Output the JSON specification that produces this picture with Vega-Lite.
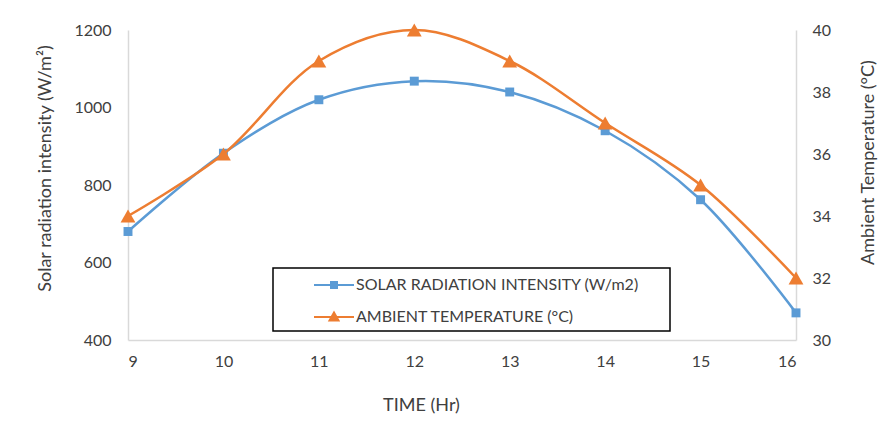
{
  "$schema": "https://vega.github.io/schema/vega-lite/v6.json",
  "width": 668,
  "height": 310,
  "autosize": {"type": "none"},
  "padding": {"left": 128, "top": 30, "right": 91, "bottom": 83},
  "background": "white",
  "config": {
    "view": {"stroke": null},
    "font": "Lato",
    "axis": {
      "grid": false,
      "ticks": false,
      "domainColor": "#d9d9d9",
      "domainWidth": 1.5,
      "labelFont": "Lato",
      "labelFontSize": 16,
      "labelColor": "#404040",
      "titleFont": "Lato",
      "titleFontSize": 18,
      "titleFontWeight": "normal",
      "titleColor": "#404040"
    }
  },
  "data": {
    "values": [
      {"time": 9, "solar": 680, "temp": 34},
      {"time": 10, "solar": 882, "temp": 36},
      {"time": 11, "solar": 1020, "temp": 39},
      {"time": 12, "solar": 1068, "temp": 40},
      {"time": 13, "solar": 1040, "temp": 39},
      {"time": 14, "solar": 940, "temp": 37},
      {"time": 15, "solar": 762, "temp": 35},
      {"time": 16, "solar": 470, "temp": 32}
    ]
  },
  "encoding": {
    "x": {
      "field": "time",
      "type": "quantitative",
      "scale": {"domain": [9, 16], "nice": false, "zero": false},
      "axis": {
        "values": [9, 10, 11, 12, 13, 14, 15, 16],
        "format": "d",
        "title": "TIME (Hr)",
        "labelPadding": 13,
        "titlePadding": 27,
        "titleX": 293
      }
    }
  },
  "layer": [
    {
      "encoding": {
        "y": {
          "field": "solar",
          "type": "quantitative",
          "scale": {"domain": [400, 1200], "nice": false, "zero": false},
          "axis": {
            "orient": "left",
            "values": [400, 600, 800, 1000, 1200],
            "format": "d",
            "title": "Solar radiation intensity (W/m²)",
            "labelPadding": 17,
            "titlePadding": 19,
            "titleY": 138
          }
        },
        "color": {
          "datum": "SOLAR RADIATION INTENSITY (W/m2)",
          "type": "nominal",
          "scale": {
            "domain": ["SOLAR RADIATION INTENSITY (W/m2)", "AMBIENT TEMPERATURE (°C)"],
            "range": ["#5b9bd5", "#ed7d31"]
          },
          "legend": {
            "title": null,
            "orient": "none",
            "legendX": 145,
            "legendY": 238,
            "padding": 6,
            "strokeColor": "black",
            "fillColor": "white",
            "symbolSize": 400,
            "symbolOffset": 44,
            "labelOffset": 11,
            "labelLimit": 600,
            "labelFont": "Lato",
            "labelFontSize": 16,
            "labelColor": "#404040",
            "rowPadding": 13,
            "labelExpr": "datum.label + '\u00a0\u00a0\u00a0\u00a0\u00a0\u00a0\u200b'",
            "encode": {
              "legend": {"update": {"strokeWidth": {"value": 1.5}}},
              "symbols": {
                "update": {
                  "shape": {"signal": "datum.value == 'SOLAR RADIATION INTENSITY (W/m2)' ? 'M-2,0H2M-0.3,-0.3H0.3V0.3H-0.3Z' : 'M-2,0H2M-0.45,0.35L0,-0.45L0.45,0.35Z'"},
                  "fill": {"signal": "datum.value == 'SOLAR RADIATION INTENSITY (W/m2)' ? '#5b9bd5' : '#ed7d31'"},
                  "stroke": {"signal": "datum.value == 'SOLAR RADIATION INTENSITY (W/m2)' ? '#5b9bd5' : '#ed7d31'"},
                  "strokeWidth": {"value": 2},
                  "opacity": {"value": 1},
                  "fillOpacity": {"value": 1}
                }
              }
            }
          }
        }
      },
      "layer": [
        {"mark": {"type": "line", "interpolate": "catmull-rom", "strokeWidth": 2.5}},
        {"mark": {"type": "point", "shape": "square", "filled": true, "size": 80, "opacity": 1}}
      ]
    },
    {
      "encoding": {
        "y": {
          "field": "temp",
          "type": "quantitative",
          "scale": {"domain": [30, 40], "nice": false, "zero": false},
          "axis": {
            "orient": "right",
            "values": [30, 32, 34, 36, 38, 40],
            "format": "d",
            "title": "Ambient Temperature  (°C)",
            "titleAngle": 270,
            "labelPadding": 16,
            "titlePadding": 47,
            "titleY": 132
          }
        },
        "color": {"datum": "AMBIENT TEMPERATURE (°C)", "type": "nominal"}
      },
      "layer": [
        {"mark": {"type": "line", "interpolate": "catmull-rom", "strokeWidth": 2.5}},
        {"mark": {"type": "point", "shape": "triangle-up", "filled": true, "size": 220, "opacity": 1}}
      ]
    }
  ],
  "resolve": {"scale": {"y": "independent"}}
}
